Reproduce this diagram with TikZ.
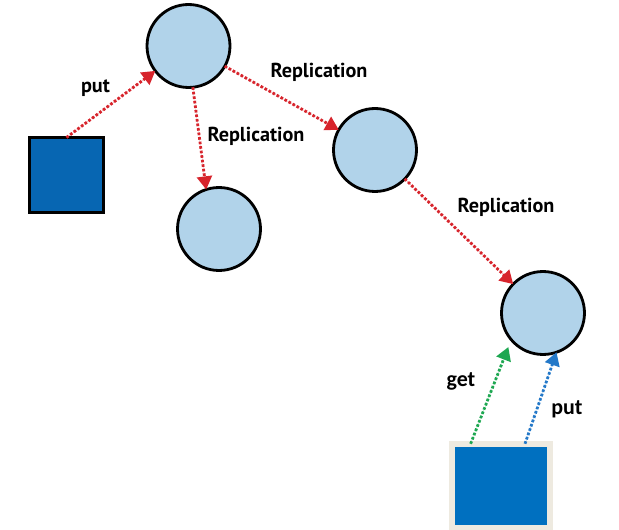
\documentclass[tikz,border=0pt]{standalone}
\usepackage{fontspec}
\newfontfamily\lblfont{PT Sans}
\newfontfamily\calfont{Carlito}
\usetikzlibrary{arrows.meta,calc,positioning}
\definecolor{nodefill}{HTML}{B1D3EA}
\definecolor{repred}{HTML}{D7242C}
\definecolor{clientblue}{HTML}{0766B2}
\definecolor{appblue}{HTML}{0070C0}
\definecolor{appframe}{HTML}{EEEAE0}
\definecolor{getgreen}{HTML}{1DA751}
\definecolor{putblue}{HTML}{2378C8}
\begin{document}
\begin{tikzpicture}[x=0.02cm,y=-0.02cm,
every node/.style={inner sep=0pt,outer sep=0pt},
replica/.style={circle,draw=black,line width=1.6pt,fill=nodefill,minimum size=1.66cm},
dotarrow/.style={line width=1.6pt,dash pattern=on 1.5pt off 1.1pt,
  -{Triangle[length=7.5pt,width=8.5pt]}},
replarrow/.style={dotarrow,draw=repred,fill=repred},
lbl/.style={font=\lblfont\bfseries\fontsize{11.5}{13}\selectfont},
calbl/.style={font=\calfont\bfseries\fontsize{12.5}{14}\selectfont}]
\useasboundingbox (0,0) rectangle (619,530);
% replicas
\node[replica] (A) at (188.5,46) {};
\node[replica] (B) at (219,229) {};
\node[replica] (C) at (375,150) {};
\node[replica] (D) at (543,313) {};
% clients
\node[draw=black,line width=1.2pt,fill=clientblue,minimum width=1.48cm,minimum height=1.5cm] (sq1) at (66.5,175) {};
\node[draw=appframe,line width=3.4pt,fill=appblue,minimum width=1.96cm,minimum height=1.69cm] (sq2) at (501,486) {};
% replication
\draw[replarrow] (sq1.north) -- (A);
\draw[replarrow] (A.-84) -- (B.108);
\draw[replarrow] (A) -- (C);
\draw[replarrow] (C) -- (D);
\draw[dotarrow,draw=getgreen,fill=getgreen,shorten >=4.5pt] ($(sq2.north west)!0.19!(sq2.north east)$) -- (D.220);
\draw[dotarrow,draw=putblue,fill=putblue] ($(sq2.north west)!0.745!(sq2.north east)$) -- (D.-71);
% labels
\node[lbl] (lput) at (95.5,88) {put};
\node[lbl] (lrepB) at (256,136) {Replication};
\node[lbl] (lrepC) at (319,72) {Replication};
\node[lbl] (lrepD) at (506,207) {Replication};
\node[calbl] (lget) at (461,381) {get};
\node[calbl] (lput2) at (567,409) {put};
\end{tikzpicture}
\end{document}
